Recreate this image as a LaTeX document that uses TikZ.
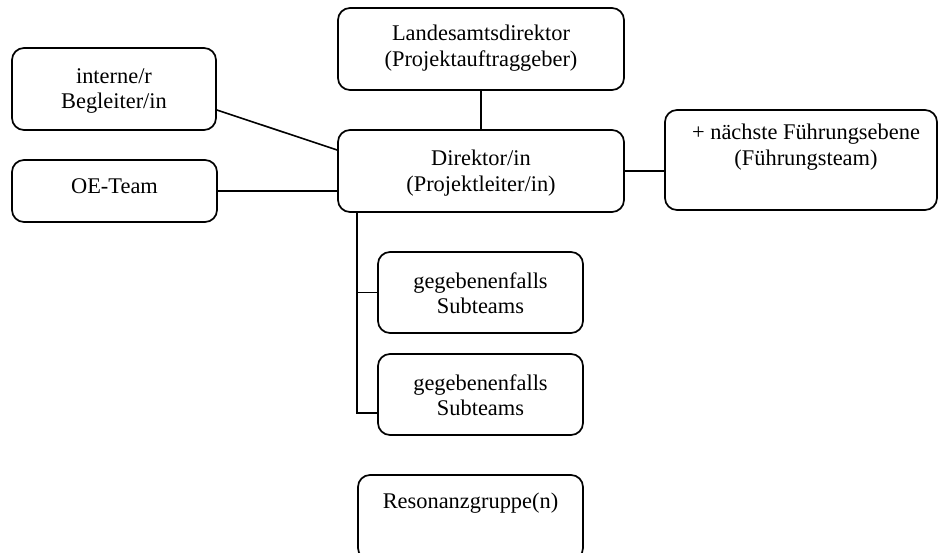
\documentclass[tikz,border=0pt]{standalone}
\usepackage{fontspec}
\setmainfont{Liberation Serif}
\usetikzlibrary{calc}
\begin{document}
\begin{tikzpicture}[x=1pt,y=-1pt,
  box/.style={draw, line width=1.7pt, rounded corners=12pt, inner sep=0pt},
  txt/.style={align=center, inner sep=0pt, font=\fontsize{22.4}{25.5}\selectfont},
  conn/.style={line width=1.6pt}]
\useasboundingbox (0,0) rectangle (938,553);
\clip (0,0) rectangle (938,553);
% boxes
\node[box, minimum width=286pt, minimum height=82pt] (lad) at (481,49) {};
\node[box, minimum width=286pt, minimum height=82pt] (dir) at (481,171) {};
\node[box, minimum width=204pt, minimum height=82pt] (int) at (114,89) {};
\node[box, minimum width=205pt, minimum height=62pt] (oe) at (114.5,191) {};
\node[box, minimum width=272pt, minimum height=100pt] (fue) at (801,160) {};
\node[box, minimum width=205pt, minimum height=81pt] (s1) at (480.5,292.5) {};
\node[box, minimum width=205pt, minimum height=81pt] (s2) at (480.5,394.5) {};
\node[box, minimum width=225pt, minimum height=85pt] (res) at (470.5,517.5) {};
% texts
\node[txt] (tlad) at (481,48) {Landesamtsdirektor\\(Projektauftraggeber)};
\node[txt] (tdir) at (481,173) {Direktor/in\\(Projektleiter/in)};
\node[txt] (tint) at (114,91) {interne/r\\Begleiter/in};
\node[txt] (toe) at (114.5,186) {OE-Team};
\node[txt] (tfue) at (806,147) {+ nächste Führungsebene\\(Führungsteam)};
\node[txt] (ts1) at (480.5,293) {gegebenenfalls\\Subteams};
\node[txt] (ts2) at (480.5,395) {gegebenenfalls\\Subteams};
\node[txt] (tres) at (470.5,503) {Resonanzgruppe(n)};
% connectors
\draw[conn] (lad.south) -- (dir.north);
\draw[conn] ([yshift=-21pt]int.east) -- ([yshift=21pt]dir.west);
\draw[conn] (oe.east) -- (oe.east -| dir.west);
\draw[conn] (dir.east) -- (dir.east -| fue.west);
\coordinate (bx) at ([xshift=20pt]dir.south west);
\coordinate (s2in) at ([yshift=-18.5pt]s2.west);
\draw[conn] (bx) |- (s1.west);
\draw[conn] (bx) |- (s2in);
\end{tikzpicture}
\end{document}
